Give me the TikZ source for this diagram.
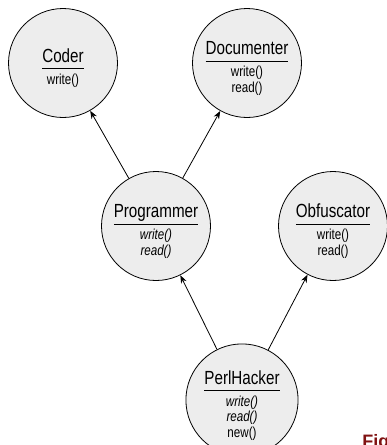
\documentclass[tikz,border=0pt]{standalone}
\usepackage{fontspec}
\usepackage{tikz}
\usetikzlibrary{arrows.meta}
\newfontfamily\narrowfont[FakeStretch=0.8]{Liberation Sans}
\newfontfamily\figfont{Liberation Sans}
\definecolor{figred}{RGB}{128,18,18}
\newcommand{\clsname}[2]{\begin{tabular}{@{}c@{}}{\fontsize{19}{21}\selectfont\rule{0pt}{26pt}#1}\\[1pt]\hline\rule{0pt}{16pt}#2\end{tabular}}
\tikzstyle{cls} = [circle, draw=black, fill=gray!14, minimum size=109pt, inner sep=0pt, align=center, font=\narrowfont\fontsize{14.5}{15.5}\selectfont]
\tikzstyle{figlbl} = [anchor=base west, inner sep=0pt, text=figred, font=\figfont\bfseries\fontsize{18}{20}\selectfont]

\begin{document}
\begin{tikzpicture}[x=1pt, y=-1pt, >={Stealth[length=8pt,width=6pt]}, line width=0.8pt]
    \useasboundingbox (0,0) rectangle (387,445);
    \node (coder) [cls] at (63,63) {\clsname{Coder}{write()}};
    \node (documenter) [cls] at (247,63) {\clsname{Documenter}{write()\\read()}};
    \node (programmer) [cls] at (156,226) {\clsname{Programmer}{\itshape write()\\\itshape read()}};
    \node (obfuscator) [cls] at (333,226) {\clsname{Obfuscator}{write()\\read()}};
    \node (perlhacker) [cls] at (242,400) {\clsname{PerlHacker}{\itshape write()\\\itshape read()\\new()}};
    \node (fig) [figlbl] at (362,447) {Fig};

    \draw[->] (programmer) -- (coder);
    \draw[->] (programmer) -- (documenter);
    \draw[->] (perlhacker) -- (programmer);
    \draw[->] (perlhacker) -- (obfuscator);
\end{tikzpicture}
\end{document}
